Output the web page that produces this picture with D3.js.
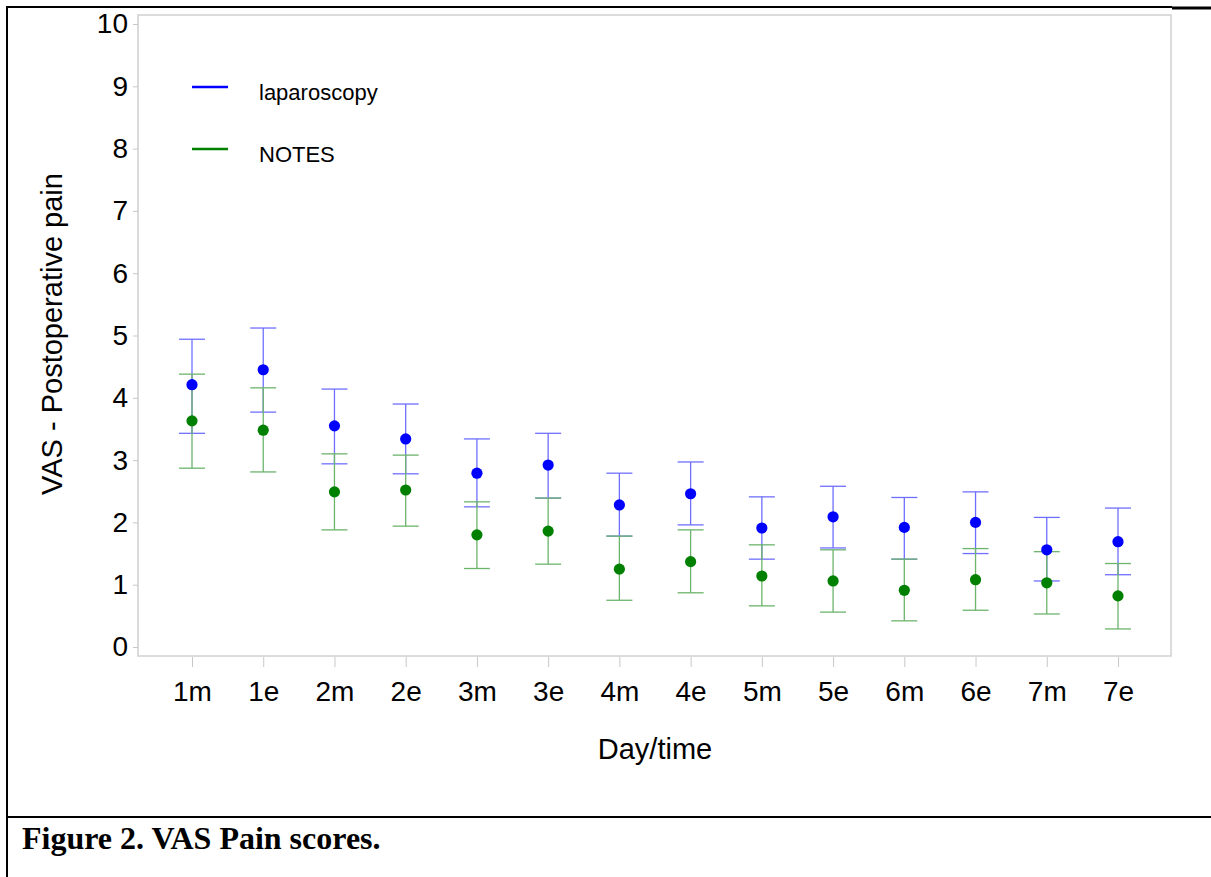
<!DOCTYPE html>
<html>
<head>
<meta charset="utf-8">
<script src="https://cdn.jsdelivr.net/npm/d3@7"></script>
<style>
  body { margin: 0; background: #fff; }
  svg { display: block; }
</style>
</head>
<body>
<div id="chart"></div>
<script>
var svgWidth = 1211;
var svgHeight = 877;

// data
var times = ["1m", "1e", "2m", "2e", "3m", "3e", "4m", "4e", "5m", "5e", "6m", "6e", "7m", "7e"];
var yTicks = [0, 1, 2, 3, 4, 5, 6, 7, 8, 9, 10];

var lapMean  = [4.21, 4.45, 3.55, 3.34, 2.79, 2.92, 2.28, 2.46, 1.91, 2.09, 1.92, 2.00, 1.56, 1.69];
var lapUpper = [4.94, 5.12, 4.14, 3.90, 3.34, 3.43, 2.79, 2.97, 2.41, 2.58, 2.40, 2.49, 2.08, 2.23];
var lapLower = [3.43, 3.77, 2.94, 2.78, 2.25, 2.39, 1.78, 1.96, 1.41, 1.59, 1.41, 1.50, 1.06, 1.16];

var notesMean  = [3.63, 3.48, 2.49, 2.52, 1.80, 1.86, 1.25, 1.37, 1.14, 1.06, 0.91, 1.08, 1.03, 0.82];
var notesUpper = [4.38, 4.16, 3.10, 3.08, 2.33, 2.39, 1.78, 1.88, 1.64, 1.56, 1.41, 1.58, 1.53, 1.34];
var notesLower = [2.87, 2.81, 1.88, 1.94, 1.26, 1.33, 0.75, 0.87, 0.66, 0.56, 0.42, 0.59, 0.53, 0.29];

var series = [
  { name: "laparoscopy", dot: "#0000ff", bar: "#6f6fff", mean: lapMean, upper: lapUpper, lower: lapLower },
  { name: "NOTES", dot: "#008000", bar: "#6cb46c", mean: notesMean, upper: notesUpper, lower: notesLower }
];

var frame = { left: 138, top: 15, right: 1171, bottom: 656 };

var svg = d3.select("#chart")
  .append("svg")
  .attr("width", svgWidth)
  .attr("height", svgHeight);

// page borders
svg.append("line").attr("x1", 7).attr("x2", 1172).attr("y1", 7).attr("y2", 7)
  .attr("stroke", "#000").attr("stroke-width", 2);
svg.append("line").attr("x1", 1172).attr("x2", 1211).attr("y1", 8).attr("y2", 8)
  .attr("stroke", "#000").attr("stroke-width", 3);
svg.append("line").attr("x1", 7).attr("x2", 7).attr("y1", 6).attr("y2", 877)
  .attr("stroke", "#000").attr("stroke-width", 2);
svg.append("line").attr("x1", 6).attr("x2", 1211).attr("y1", 817).attr("y2", 817)
  .attr("stroke", "#000").attr("stroke-width", 2);

svg.append("text")
  .attr("x", 22).attr("y", 849)
  .style("font-family", "'Liberation Serif', 'Times New Roman', serif")
  .style("font-weight", "bold")
  .style("font-size", "32px")
  .text("Figure 2. VAS Pain scores.");

// plot frame
svg.append("rect")
  .attr("x", frame.left).attr("y", frame.top)
  .attr("width", frame.right - frame.left).attr("height", frame.bottom - frame.top)
  .attr("fill", "none").attr("stroke", "#d0d0d0").attr("stroke-width", 1.5);

var xScale = d3.scalePoint()
  .domain(times)
  .range([192, 1118]);

var yScale = d3.scaleLinear()
  .domain([0, 10])
  .range([647, 24]);

var leftAxis = d3.axisLeft(yScale).tickValues(yTicks).tickSize(5).tickPadding(5);
var bottomAxis = d3.axisBottom(xScale).tickSize(10).tickPadding(14);

var yAxisG = svg.append("g")
  .attr("transform", `translate(${frame.left}, 0)`)
  .call(leftAxis);
yAxisG.select(".domain").remove();
yAxisG.selectAll("line").attr("stroke", "#c8c8c8");
yAxisG.selectAll("text")
  .style("font-family", "'Liberation Sans', Arial, sans-serif")
  .style("font-size", "28px")
  .attr("fill", "#000");

var xAxisG = svg.append("g")
  .attr("transform", `translate(0, ${frame.bottom + 1})`)
  .call(bottomAxis);
xAxisG.select(".domain").remove();
xAxisG.selectAll("line").attr("stroke", "#c8c8c8");
xAxisG.selectAll("text")
  .style("font-family", "'Liberation Sans', Arial, sans-serif")
  .style("font-size", "28px")
  .attr("fill", "#000");

// axis titles
svg.append("text")
  .attr("transform", "translate(62, 334) rotate(-90)")
  .attr("text-anchor", "middle")
  .style("font-family", "'Liberation Sans', Arial, sans-serif")
  .style("font-size", "29px")
  .text("VAS - Postoperative pain");

svg.append("text")
  .attr("x", 655).attr("y", 759)
  .attr("text-anchor", "middle")
  .style("font-family", "'Liberation Sans', Arial, sans-serif")
  .style("font-size", "29px")
  .text("Day/time");

// error bars and points
var capHalf = 13;
series.forEach(function(s) {
  var g = svg.append("g");
  var rows = times.map(function(t, i) {
    return { t: t, mean: s.mean[i], upper: s.upper[i], lower: s.lower[i] };
  });

  g.selectAll(".stem").data(rows).enter().append("line")
    .attr("x1", d => xScale(d.t)).attr("x2", d => xScale(d.t))
    .attr("y1", d => yScale(d.upper)).attr("y2", d => yScale(d.lower))
    .attr("stroke", s.bar).attr("stroke-width", 1.3);

  ["upper", "lower"].forEach(function(k) {
    g.selectAll(".cap-" + k).data(rows).enter().append("line")
      .attr("x1", d => xScale(d.t) - capHalf).attr("x2", d => xScale(d.t) + capHalf)
      .attr("y1", d => yScale(d[k])).attr("y2", d => yScale(d[k]))
      .attr("stroke", s.bar).attr("stroke-width", 1.3);
  });
});

series.forEach(function(s) {
  svg.append("g").selectAll("circle")
    .data(s.mean)
    .enter()
    .append("circle")
    .attr("cx", (d, i) => xScale(times[i]))
    .attr("cy", d => yScale(d))
    .attr("r", 5.6)
    .attr("fill", s.dot);
});

// legend
var legend = svg.append("g");
series.forEach(function(s, i) {
  var y = 87 + i * 62;
  legend.append("line")
    .attr("x1", 192).attr("x2", 228).attr("y1", y).attr("y2", y)
    .attr("stroke", s.dot).attr("stroke-width", 2.5);
  legend.append("text")
    .attr("x", 259).attr("y", y + 13)
    .style("font-family", "'Liberation Sans', Arial, sans-serif")
    .style("font-size", "22px")
    .text(s.name);
});
</script>
</body>
</html>
